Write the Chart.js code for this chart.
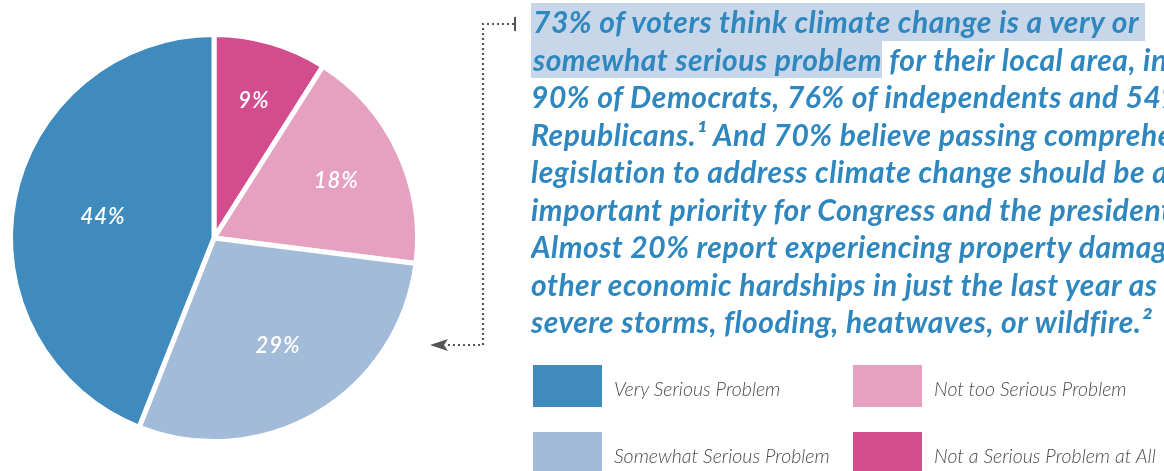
<!DOCTYPE html>
<html lang="en">
<head>
    <meta charset="UTF-8">
    <title>Climate change as a local problem</title>
    <script src="https://cdn.jsdelivr.net/npm/chart.js"></script>
    <style>
        body {
            margin: 0;
            width: 1164px;
            height: 471px;
            overflow: hidden;
            background: #fff;
            position: relative;
            font-family: Lato, "Open Sans", sans-serif;
        }
        .pie-wrap {
            position: absolute;
            left: 0;
            top: 0;
            width: 430px;
            height: 471px;
        }
        .story {
            position: absolute;
            left: 531px;
            top: 3px;
            width: 633px;
            overflow: hidden;
            color: #2f87bf;
            font-weight: 700;
            font-style: italic;
            font-size: 30px;
            letter-spacing: 0.5px;
            line-height: 37.5px;
        }
        .story div { white-space: nowrap; }
        .story .hl {
            display: inline-block;
            background: #c8d6ea;
            padding-left: 2px;
        }
        .legend {
            position: absolute;
            left: 533px;
            top: 365px;
        }
        .legend-item {
            position: absolute;
            display: flex;
            align-items: center;
            white-space: nowrap;
            font-style: italic;
            font-weight: 300;
            font-size: 19.5px;
            color: #4a4a4a;
        }
        .legend-item .box {
            width: 69px;
            height: 42px;
            margin-right: 12px;
        }
        .legend-item span { padding-top: 4px; }
        svg.connector {
            position: absolute;
            left: 0;
            top: 0;
        }
    </style>
</head>
<body>
    <div class="pie-wrap"><canvas id="pie"></canvas></div>

    <svg class="connector" width="1164" height="471">
        <path d="M514 24 H483 V345 H446" fill="none" stroke="#555" stroke-width="2.2" stroke-dasharray="2 3"/>
        <line x1="515" y1="17" x2="515" y2="31" stroke="#555" stroke-width="2"/>
        <path d="M430 345 L448 339 L444 345 L448 351 Z" fill="#555"/>
    </svg>

    <div class="story" id="story"></div>
    <div class="legend" id="legend"></div>

    <script>
        // slice data, clockwise from the top
        const categories = ['Not a Serious Problem at All', 'Not too Serious Problem', 'Somewhat Serious Problem', 'Very Serious Problem'];
        const shares = [9, 18, 29, 44];
        const colors = ['#d34c8d', '#e6a1c1', '#a1bbd9', '#3f8bbe'];

        // legend order as shown (row by row)
        const legendOrder = [3, 1, 2, 0];

        // text block, one entry per line: [highlighted part, rest]
        const storyLines = [
            ['73% of voters think climate change is a very or', ''],
            ['somewhat serious problem', ' for their local area, including'],
            ['', '90% of Democrats, 76% of independents and 54% of'],
            ['', 'Republicans.\u00b9 And 70% believe passing comprehensive'],
            ['', 'legislation to address climate change should be a very'],
            ['', 'important priority for Congress and the president.'],
            ['', 'Almost 20% report experiencing property damage or'],
            ['', 'other economic hardships in just the last year as a result of'],
            ['', 'severe storms, flooding, heatwaves, or wildfire.\u00b2']
        ];

        const story = document.getElementById('story');
        storyLines.forEach(([hl, rest], i) => {
            const div = document.createElement('div');
            if (hl) {
                const s = document.createElement('span');
                s.className = 'hl';
                s.textContent = hl;
                if (i === 0) s.style.paddingRight = '6px';
                div.appendChild(s);
            }
            div.appendChild(document.createTextNode(rest));
            story.appendChild(div);
        });

        // legend
        const legend = document.getElementById('legend');
        legendOrder.forEach((idx, n) => {
            const item = document.createElement('div');
            item.className = 'legend-item';
            item.style.left = (n % 2 ? 320 : 0) + 'px';
            item.style.top = (n < 2 ? 0 : 67) + 'px';
            const box = document.createElement('div');
            box.className = 'box';
            box.style.background = colors[idx];
            const txt = document.createElement('span');
            txt.textContent = categories[idx];
            item.appendChild(box);
            item.appendChild(txt);
            legend.appendChild(item);
        });

        // percentage labels inside the slices (small slices sit further out)
        const sliceLabels = {
            id: 'sliceLabels',
            afterDatasetsDraw(chart) {
                const ctx = chart.ctx;
                const meta = chart.getDatasetMeta(0);
                ctx.save();
                ctx.fillStyle = '#fff';
                ctx.font = 'italic 600 22px Lato, sans-serif';
                ctx.letterSpacing = '1px';
                ctx.textAlign = 'center';
                ctx.textBaseline = 'middle';
                meta.data.forEach((arc, i) => {
                    const mid = (arc.startAngle + arc.endAngle) / 2;
                    const r = arc.outerRadius * (0.74 - 0.42 * shares[i] / 100);
                    const x = arc.x + Math.cos(mid) * r;
                    const y = arc.y + Math.sin(mid) * r;
                    ctx.fillText(shares[i] + '%', x, y);
                });
                ctx.restore();
            }
        };

        new Chart(document.getElementById('pie'), {
            type: 'pie',
            data: {
                labels: categories,
                datasets: [{
                    data: shares,
                    backgroundColor: colors,
                    borderColor: '#fff',
                    borderWidth: 5
                }]
            },
            options: {
                responsive: true,
                maintainAspectRatio: false,
                animation: false,
                layout: { padding: { left: 8, right: 10, top: 32, bottom: 27 } },
                plugins: {
                    legend: { display: false },
                    tooltip: { enabled: false }
                }
            },
            plugins: [sliceLabels]
        });
    </script>
</body>
</html>
